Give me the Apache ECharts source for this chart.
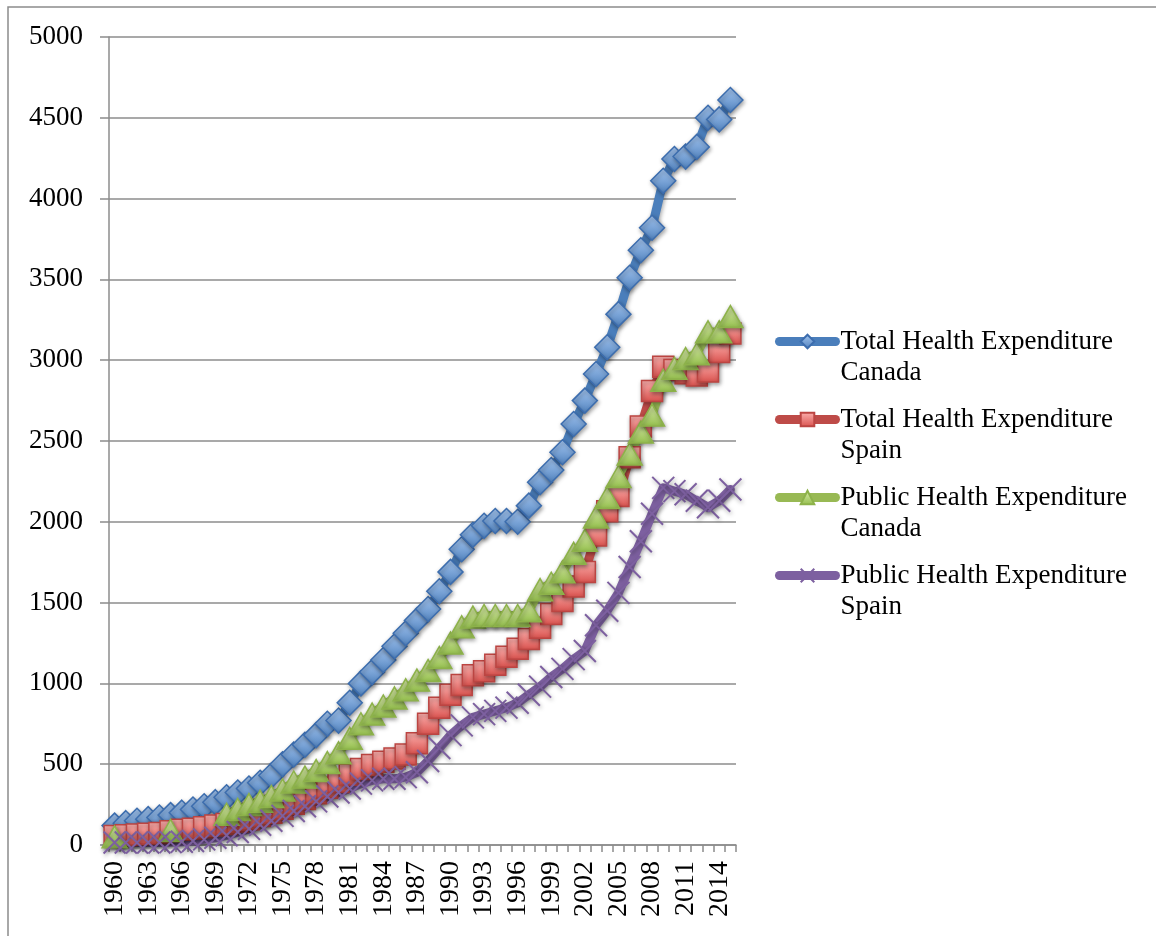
<!DOCTYPE html>
<html>
<head>
<meta charset="utf-8">
<title>Health Expenditure Canada / Spain</title>
<script src="https://cdn.jsdelivr.net/npm/echarts@6/dist/echarts.min.js"></script>
<style>
  html, body { margin: 0; padding: 0; background: #fff; }
  #chart { width: 1156px; height: 936px; }
</style>
</head>
<body>
<div id="chart"></div>
<script>
// years 1960 - 2015
var years = [];
for (var y = 1960; y <= 2015; y++) years.push(String(y));

var seriesNames = [
  'Total Health Expenditure Canada',
  'Total Health Expenditure Spain',
  'Public Health Expenditure Canada',
  'Public Health Expenditure Spain'
];

var totalCanada = [
  120, 135, 150, 160, 170, 185, 200, 220, 240, 265,
  295, 325, 350, 385, 430, 500, 560, 620, 680, 750,
  770, 880, 1000, 1070, 1145, 1230, 1310, 1390, 1460, 1570,
  1690, 1830, 1920, 1975, 2005, 2005, 2000, 2100, 2245, 2320,
  2430, 2605, 2750, 2915, 3080, 3285, 3510, 3680, 3820, 4110,
  4245, 4260, 4320, 4500, 4490, 4610
];

var totalSpain = [
  55, 60, 65, 70, 75, 85, 95, 100, 110, 120,
  130, 145, 160, 180, 200, 225, 255, 285, 320, 355,
  390, 435, 470, 495, 515, 535, 560, 630, 750, 850,
  930, 990, 1050, 1075, 1115, 1165, 1215, 1275, 1345, 1430,
  1510, 1600, 1690, 1915, 2065, 2160, 2400, 2590, 2810, 2960,
  2940, 2920, 2905, 2930, 3050, 3165
];

var publicCanada = [
  50, null, null, null, null, 90, null, null, null, null,
  190, 220, 250, 270, 300, 340, 390, 420, 460, 510,
  570, 660, 750, 810, 860, 910, 960, 1020, 1080, 1160,
  1250, 1350, 1410, 1420, 1420, 1420, 1420, 1450, 1580, 1620,
  1690, 1805, 1885, 2030, 2150, 2280, 2420, 2555, 2660, 2875,
  2950, 3010, 3040, 3175, 3175, 3270
];

var publicSpain = [
  15, 15, 15, 15, 15, 18, 20, 25, 35, 45,
  60, 80, 100, 125, 150, 180, 210, 240, 270, 300,
  325, 350, 380, 400, 410, 410, 420, 450, 520, 600,
  680, 740, 790, 810, 830, 850, 880, 930, 980, 1040,
  1090, 1150, 1200, 1360, 1450, 1560, 1720, 1880, 2050, 2210,
  2190, 2170, 2130, 2090, 2130, 2200
];

var yTicks = { min: 0, max: 5000, step: 500 };

var serif = '"Liberation Serif", "Times New Roman", serif';
var gridGray = '#8c8c8c';

function grad(top, bottom) {
  return {
    type: 'linear', x: 0, y: 0, x2: 0, y2: 1,
    colorStops: [{ offset: 0, color: top }, { offset: 1, color: bottom }]
  };
}

var shadow = { shadowBlur: 4, shadowColor: 'rgba(0,0,0,0.35)', shadowOffsetX: 1, shadowOffsetY: 2 };

function lineSeries(name, data, color, symbol, size, itemStyle) {
  return {
    name: name,
    type: 'line',
    data: data,
    symbol: symbol,
    symbolSize: size,
    showSymbol: true,
    showAllSymbol: true,
    connectNulls: false,
    animation: false,
    lineStyle: Object.assign({ color: color, width: 9, cap: 'round', join: 'round' }, shadow),
    itemStyle: Object.assign({}, itemStyle, shadow)
  };
}

var chart = echarts.init(document.getElementById('chart'));

chart.setOption({
  backgroundColor: '#fff',
  animation: false,
  graphic: [{
    type: 'rect',
    shape: { x: 8, y: 7, width: 1300, height: 1100 },
    style: { fill: 'none', stroke: '#8c8c8c', lineWidth: 1.5 },
    silent: true
  }],
  grid: { left: 109, top: 37, right: 420, bottom: 91 },
  legend: {
    orient: 'vertical',
    left: 775,
    top: 295,
    padding: 0,
    itemWidth: 56,
    itemHeight: 17,
    itemGap: -15,
    data: seriesNames,
    lineStyle: { width: 9, cap: 'round' },
    // blank first line so that the name's first line sits level with the icon
    formatter: function (n) {
      return ' \n' + n.replace(/ (Canada|Spain)$/, '\n$1');
    },
    textStyle: {
      fontFamily: serif,
      fontSize: 27,
      lineHeight: 31,
      color: '#000'
    }
  },
  xAxis: {
    type: 'category',
    data: years,
    boundaryGap: true,
    axisLine: { lineStyle: { color: gridGray, width: 1.5 } },
    axisTick: { show: true, interval: 0, length: 7, lineStyle: { color: gridGray, width: 1.5 } },
    axisLabel: {
      interval: 2,
      rotate: 90,
      margin: 16,
      fontFamily: serif,
      fontSize: 28,
      color: '#000'
    },
    splitLine: { show: false }
  },
  yAxis: {
    type: 'value',
    min: yTicks.min,
    max: yTicks.max,
    interval: yTicks.step,
    axisLine: { show: true, lineStyle: { color: gridGray, width: 1.5 } },
    axisTick: { show: true, length: 9, lineStyle: { color: gridGray, width: 1.5 } },
    axisLabel: {
      margin: 26,
      fontFamily: serif,
      fontSize: 27,
      color: '#000',
      formatter: function (v) { return String(v); }
    },
    splitLine: { show: true, lineStyle: { color: gridGray, width: 1.5 } }
  },
  series: [
    lineSeries(seriesNames[0], totalCanada, '#4A7EBB', 'diamond', [25, 25],
      { color: grad('#A7C8F2', '#4F81BD'), borderColor: '#3C6DAE', borderWidth: 1.5 }),
    lineSeries(seriesNames[1], totalSpain, '#BE4B48', 'rect', [21, 21],
      { color: grad('#FDB2B0', '#D9514D'), borderColor: '#BC4542', borderWidth: 1.5 }),
    lineSeries(seriesNames[2], publicCanada, '#98B954', 'triangle', [25, 22],
      { color: grad('#DCEDAE', '#93BE4C'), borderColor: '#8DB24A', borderWidth: 1.5 }),
    lineSeries(seriesNames[3], publicSpain, '#7D60A0', 'path://M0,0L10,10M10,0L0,10', [22, 22],
      { color: 'rgba(0,0,0,0)', borderColor: '#7D60A0', borderWidth: 2 })
  ]
});
</script>
</body>
</html>
